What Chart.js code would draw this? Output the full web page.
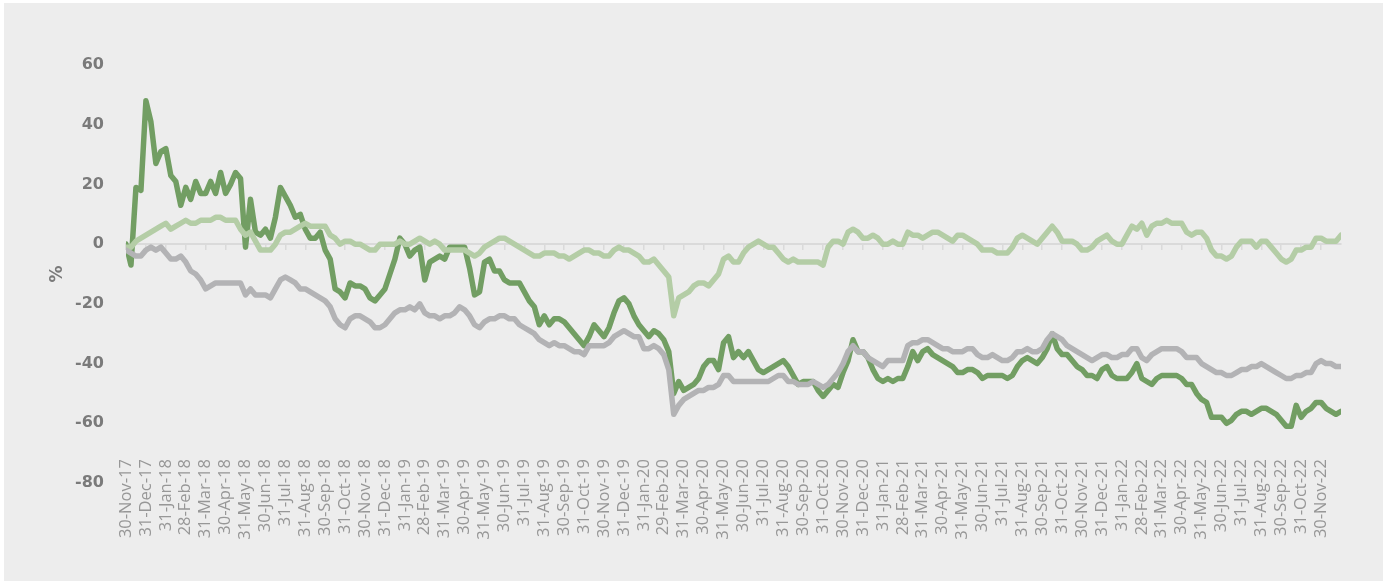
<!DOCTYPE html>
<html>
<head>
<meta charset="utf-8">
<script src="https://cdn.jsdelivr.net/npm/chart.js@4.4.1/dist/chart.umd.min.js"></script>
<style>
  html, body { margin: 0; padding: 0; background: #ffffff; }
  #wrap { position: absolute; left: 4px; top: 3px; width: 1379px; height: 578px; background: #ededed; }
</style>
</head>
<body>
<div id="wrap"><canvas id="grafico" width="1379" height="578"></canvas></div>
<script>
// month-end tick labels
const months = [
  '30-Nov-17','31-Dec-17',
  '31-Jan-18','28-Feb-18','31-Mar-18','30-Apr-18','31-May-18','30-Jun-18','31-Jul-18','31-Aug-18','30-Sep-18','31-Oct-18','30-Nov-18','31-Dec-18',
  '31-Jan-19','28-Feb-19','31-Mar-19','30-Apr-19','31-May-19','30-Jun-19','31-Jul-19','31-Aug-19','30-Sep-19','31-Oct-19','30-Nov-19','31-Dec-19',
  '31-Jan-20','29-Feb-20','31-Mar-20','30-Apr-20','31-May-20','30-Jun-20','31-Jul-20','31-Aug-20','30-Sep-20','31-Oct-20','30-Nov-20','31-Dec-20',
  '31-Jan-21','28-Feb-21','31-Mar-21','30-Apr-21','31-May-21','30-Jun-21','31-Jul-21','31-Aug-21','30-Sep-21','31-Oct-21','30-Nov-21','31-Dec-21',
  '31-Jan-22','28-Feb-22','31-Mar-22','30-Apr-22','31-May-22','30-Jun-22','31-Jul-22','31-Aug-22','30-Sep-22','31-Oct-22','30-Nov-22'
];

// four readings per month, starting 30-Nov-17 (values in %)
const pointsPerMonth = 4;

const serieVerde = [
  0,-7,19,18,48,41,27,31,32,23,21,13,19,15,21,17,17,21,17,24,17,20,24,22,-1,15,4,3,5,2,9,19,16,13,9,10,5,2,2,4,-2,-5,-15,-16,-18,-13,-14,-14,
  -15,-18,-19,-17,-15,-10,-5,2,0,-4,-2,-1,-12,-6,-5,-4,-5,-1,-1,-1,-1,-8,-17,-16,-6,-5,-9,-9,-12,-13,-13,-13,-16,-19,-21,-27,-24,-27,-25,-25,-26,-28,-30,-32,-34,-31,-27,-29,
  -31,-28,-23,-19,-18,-20,-24,-27,-29,-31,-29,-30,-32,-36,-50,-46,-49,-48,-47,-45,-41,-39,-39,-42,-33,-31,-38,-36,-38,-36,-39,-42,-43,-42,-41,-40,-39,-41,-44,-47,-46,-46,-46,-49,-51,-49,-47,-48,
  -43,-39,-32,-36,-36,-38,-42,-45,-46,-45,-46,-45,-45,-41,-36,-39,-36,-35,-37,-38,-39,-40,-41,-43,-43,-42,-42,-43,-45,-44,-44,-44,-44,-45,-44,-41,-39,-38,-39,-40,-38,-35,-30,-35,-37,-37,-39,-41,
  -42,-44,-44,-45,-42,-41,-44,-45,-45,-45,-43,-40,-45,-46,-47,-45,-44,-44,-44,-44,-45,-47,-47,-50,-52,-53,-58,-58,-58,-60,-59,-57,-56,-56,-57,-56,-55,-55,-56,-57,-59,-61,-61,-54,-58,-56,-55,-53,
  -53,-55,-56,-57,-56
];

const serieVerdeClaro = [
  -1,-1,1,2,3,4,5,6,7,5,6,7,8,7,7,8,8,8,9,9,8,8,8,5,3,4,1,-2,-2,-2,0,3,4,4,5,6,7,6,6,6,6,3,2,0,1,1,0,0,
  -1,-2,-2,0,0,0,0,1,0,0,1,2,1,0,1,0,-2,-2,-2,-2,-2,-3,-4,-3,-1,0,1,2,2,1,0,-1,-2,-3,-4,-4,-3,-3,-3,-4,-4,-5,-4,-3,-2,-2,-3,-3,
  -4,-4,-2,-1,-2,-2,-3,-4,-6,-6,-5,-7,-9,-11,-24,-18,-17,-16,-14,-13,-13,-14,-12,-10,-5,-4,-6,-6,-3,-1,0,1,0,-1,-1,-3,-5,-6,-5,-6,-6,-6,-6,-6,-7,-1,1,1,
  0,4,5,4,2,2,3,2,0,0,1,0,0,4,3,3,2,3,4,4,3,2,1,3,3,2,1,0,-2,-2,-2,-3,-3,-3,-1,2,3,2,1,0,2,4,6,4,1,1,1,0,
  -2,-2,-1,1,2,3,1,0,0,3,6,5,7,3,6,7,7,8,7,7,7,4,3,4,4,2,-2,-4,-4,-5,-4,-1,1,1,1,-1,1,1,-1,-3,-5,-6,-5,-2,-2,-1,-1,2,
  2,1,1,1,3
];

const serieGris = [
  -2,-3,-4,-4,-2,-1,-2,-1,-3,-5,-5,-4,-6,-9,-10,-12,-15,-14,-13,-13,-13,-13,-13,-13,-17,-15,-17,-17,-17,-18,-15,-12,-11,-12,-13,-15,-15,-16,-17,-18,-19,-21,-25,-27,-28,-25,-24,-24,
  -25,-26,-28,-28,-27,-25,-23,-22,-22,-21,-22,-20,-23,-24,-24,-25,-24,-24,-23,-21,-22,-24,-27,-28,-26,-25,-25,-24,-24,-25,-25,-27,-28,-29,-30,-32,-33,-34,-33,-34,-34,-35,-36,-36,-37,-34,-34,-34,
  -34,-33,-31,-30,-29,-30,-31,-31,-35,-35,-34,-35,-37,-42,-57,-54,-52,-51,-50,-49,-49,-48,-48,-47,-44,-44,-46,-46,-46,-46,-46,-46,-46,-46,-45,-44,-44,-46,-46,-47,-47,-47,-46,-47,-48,-47,-45,-43,
  -40,-36,-34,-36,-36,-38,-39,-40,-41,-39,-39,-39,-39,-34,-33,-33,-32,-32,-33,-34,-35,-35,-36,-36,-36,-35,-35,-37,-38,-38,-37,-38,-39,-39,-38,-36,-36,-35,-36,-36,-35,-32,-30,-31,-32,-34,-35,-36,
  -37,-38,-39,-38,-37,-37,-38,-38,-37,-37,-35,-35,-38,-39,-37,-36,-35,-35,-35,-35,-36,-38,-38,-38,-40,-41,-42,-43,-43,-44,-44,-43,-42,-42,-41,-41,-40,-41,-42,-43,-44,-45,-45,-44,-44,-43,-43,-40,
  -39,-40,-40,-41,-41
];

const yTicks = [-80, -60, -40, -20, 0, 20, 40, 60];

function aPuntos(serie) {
  return serie.map((v, i) => ({ x: i / pointsPerMonth, y: v }));
}

function generarGrafico() {
  const ctx = document.getElementById('grafico').getContext('2d');
  const xMax = (serieVerde.length - 1) / pointsPerMonth;

  new Chart(ctx, {
    type: 'line',
    data: {
      datasets: [
        { data: aPuntos(serieVerde), borderColor: '#729e63', borderWidth: 5.5, order: 3 },
        { data: aPuntos(serieVerdeClaro), borderColor: '#b4cda6', borderWidth: 5.5, order: 2 },
        { data: aPuntos(serieGris), borderColor: '#b3b3b5', borderWidth: 5.5, order: 1 }
      ]
    },
    options: {
      responsive: false,
      animation: false,
      elements: { point: { radius: 0 }, line: { tension: 0, borderJoinStyle: 'round', borderCapStyle: 'round' } },
      layout: { padding: { left: 39, right: 42, top: 62, bottom: 98 } },
      plugins: { legend: { display: false }, tooltip: { enabled: false } },
      scales: {
        x: {
          type: 'linear',
          min: 0,
          max: xMax,
          position: { y: 0 },
          afterBuildTicks: (s) => { s.ticks = months.map((_, i) => ({ value: i })); },
          border: { display: true, color: '#dadada', width: 2 },
          grid: { drawOnChartArea: false, drawTicks: true, tickLength: 5, color: '#dadada', lineWidth: 1.5 },
          ticks: { display: false }
        },
        x2: {
          type: 'linear',
          axis: 'x',
          min: 0,
          max: xMax,
          position: { y: -72 },
          afterBuildTicks: (s) => { s.ticks = months.map((_, i) => ({ value: i })); },
          border: { display: false },
          grid: { display: false, drawTicks: false },
          ticks: {
            autoSkip: false,
            minRotation: 90,
            maxRotation: 90,
            padding: 0,
            color: '#979797',
            font: { family: 'Open Sans', size: 16.5 },
            callback: (v) => months[v] ?? ''
          }
        },
        y: {
          min: -80,
          max: 60,
          afterBuildTicks: (s) => { s.ticks = yTicks.map(v => ({ value: v })); },
          afterFit: (s) => { s.width = 83; },
          border: { display: false },
          grid: { display: false, drawTicks: false },
          ticks: {
            padding: 22,
            color: '#7a7a7a',
            font: { family: 'DejaVu Sans', size: 16, weight: 'bold' }
          },
          title: {
            display: true,
            text: '%',
            color: '#7a7a7a',
            font: { family: 'DejaVu Sans', size: 17, weight: 'bold' }
          }
        }
      }
    }
  });
}

window.onload = generarGrafico;
</script>
</body>
</html>
